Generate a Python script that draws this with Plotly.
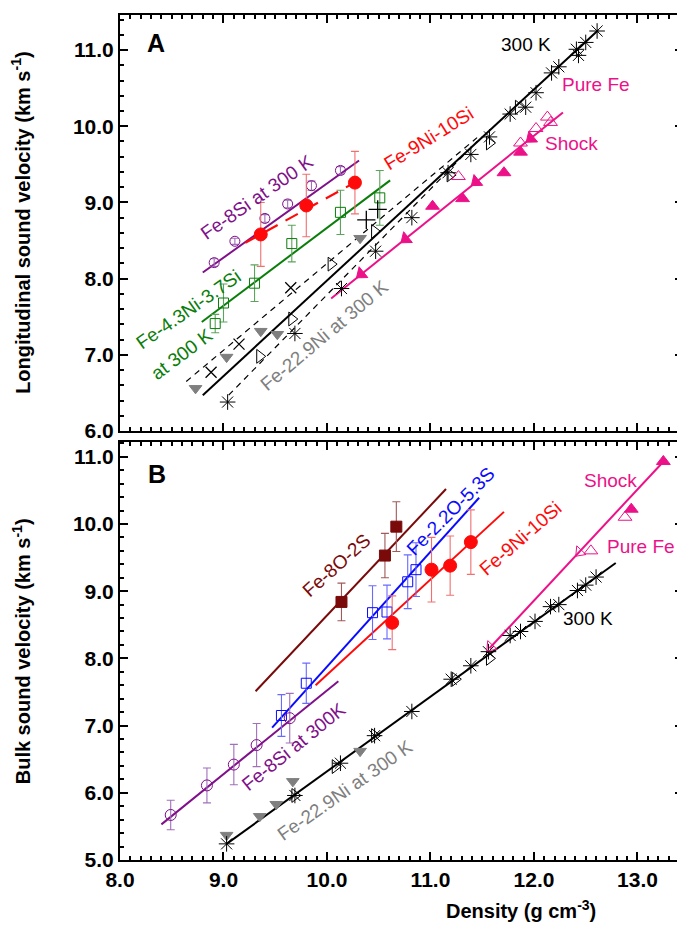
import plotly.graph_objects as go

# ---------------- Panel A: longitudinal sound velocity ----------------
a_fe8si_x = [8.91, 9.11, 9.40, 9.62, 9.85, 10.13]
a_fe8si_y = [8.21, 8.49, 8.79, 8.98, 9.22, 9.42]
a_fe8si_err = [0.05, 0.04, 0.05, 0.05, 0.06, 0.05]
a_fe8si_fit_x = [8.80, 10.31]
a_fe8si_fit_y = [8.08, 9.55]

a_fe9ni10si_x = [9.36, 9.80, 10.27]
a_fe9ni10si_y = [8.58, 8.96, 9.26]
a_fe9ni10si_err = [0.42, 0.41, 0.41]
a_fe9ni10si_fit_x = [9.21, 10.36]
a_fe9ni10si_fit_y = [8.47, 9.33]

a_fe43ni_x = [8.92, 9.00, 9.30, 9.66, 10.13, 10.51]
a_fe43ni_y = [7.41, 7.68, 7.94, 8.46, 8.87, 9.06]
a_fe43ni_err = [0.12, 0.25, 0.24, 0.24, 0.29, 0.36]
a_fe43ni_fit_x = [8.79, 10.61]
a_fe43ni_fit_y = [7.43, 9.29]

a_fe300_x = [11.17, 11.39, 11.57, 11.77, 11.92, 12.02, 12.17, 12.24, 12.41, 12.43, 12.50, 12.61]
a_fe300_y = [9.39, 9.63, 9.86, 10.16, 10.25, 10.44, 10.70, 10.78, 11.01, 10.93, 11.10, 11.25]
a_fe300_fit_x = [8.80, 12.62]
a_fe300_fit_y = [6.47, 11.26]

a_star_low_x = [9.04, 9.69, 10.14, 10.47, 10.82]
a_star_low_y = [6.38, 7.28, 7.87, 8.36, 8.80]
a_dash_low_x = [9.05, 11.45]
a_dash_low_y = [6.47, 9.80]
a_dash_up_x = [8.64, 11.45]
a_dash_up_y = [6.65, 9.85]

a_ni229_x = [8.73, 9.03, 9.36, 9.52, 10.32]
a_ni229_y = [6.56, 6.97, 7.31, 7.27, 8.53]
a_xmark_x = [8.88, 9.15, 9.65]
a_xmark_y = [6.77, 7.14, 7.88]
a_plus_x = [10.38, 10.49]
a_plus_y = [8.77, 8.91]
a_tri_x = [9.35, 9.66, 10.04, 10.46, 11.19, 11.57, 11.85]
a_tri_y = [6.98, 7.47, 8.19, 8.62, 9.36, 9.78, 10.25]

a_shock_x = [11.02, 11.31, 11.71, 11.87]
a_shock_y = [8.95, 9.05, 9.39, 9.66]
a_arrow_x = [10.33, 10.76, 11.44, 11.97]
a_arrow_y = [8.06, 8.52, 9.27, 9.84]
a_purefe_x = [11.27, 11.87, 12.02, 12.13, 12.16]
a_purefe_y = [9.34, 9.78, 9.97, 10.12, 10.05]
a_shock_fit_x = [10.04, 12.28]
a_shock_fit_y = [7.74, 10.18]

# ---------------- Panel B: bulk sound velocity ----------------
b_fe8o2s_x = [10.14, 10.56, 10.67]
b_fe8o2s_y = [8.84, 9.53, 9.96]
b_fe8o2s_err = [0.28, 0.33, 0.37]
b_fe8o2s_fit_x = [9.31, 11.15]
b_fe8o2s_fit_y = [7.51, 10.52]

b_fe22o_x = [9.56, 9.80, 10.44, 10.58, 10.78, 10.86]
b_fe22o_y = [7.15, 7.63, 8.68, 8.69, 9.14, 9.32]
b_fe22o_err = [0.31, 0.30, 0.40, 0.40, 0.40, 0.40]
b_fe22o_fit_x = [9.47, 11.47]
b_fe22o_fit_y = [6.97, 10.39]

b_fe9ni10si_x = [10.63, 11.01, 11.19, 11.39]
b_fe9ni10si_y = [8.53, 9.32, 9.38, 9.73]
b_fe9ni10si_err = [0.40, 0.48, 0.44, 0.48]
b_fe9ni10si_fit_x = [9.89, 11.71]
b_fe9ni10si_fit_y = [7.60, 10.18]

b_fe8si_x = [8.49, 8.84, 9.10, 9.32, 9.64]
b_fe8si_y = [5.67, 6.11, 6.42, 6.71, 7.11]
b_fe8si_err = [0.22, 0.26, 0.30, 0.32, 0.37]
b_fe8si_fit_x = [8.40, 10.11]
b_fe8si_fit_y = [5.53, 7.66]

b_fe300_x = [9.03, 9.69, 10.13, 10.46, 10.82, 11.20, 11.39, 11.56, 11.77, 11.87, 12.01, 12.16, 12.24, 12.42, 12.50, 12.60]
b_fe300_y = [5.24, 5.96, 6.44, 6.85, 7.21, 7.69, 7.89, 8.10, 8.34, 8.40, 8.55, 8.77, 8.80, 9.01, 9.09, 9.21]
b_fe300_fit_x = [9.03, 12.79]
b_fe300_fit_y = [5.24, 9.42]
b_tri_x = [9.69, 10.08, 10.46, 11.24, 11.57]
b_tri_y = [5.96, 6.39, 6.85, 7.69, 8.00]
b_ni229_x = [9.03, 9.35, 9.51, 9.67, 10.32]
b_ni229_y = [5.37, 5.65, 5.83, 6.17, 6.62]

b_shock_x = [12.94, 13.25]
b_shock_y = [10.22, 10.93]
b_arrow_x = [11.58, 12.44]
b_arrow_y = [8.17, 9.58]
b_purefe_x = [12.55, 12.88]
b_purefe_y = [9.60, 10.10]
b_shock_fit_x = [11.57, 13.27]
b_shock_fit_y = [8.15, 10.96]

x_ticks = [8.0, 9.0, 10.0, 11.0, 12.0, 13.0]

PURPLE = "#80108a"
RED = "#ff0a0a"
GREEN = "#0a7d0a"
PINK = "#ec1188"
DRED = "#7a0a0a"
BLUE = "#0a0aff"
GRAY = "#7f7f7f"
FONT = "Liberation Sans"
LBL = 19

fig = go.Figure()


def add(xs, ys, xa, ya, mode, color, symbol=None, size=10, err=None, errcolor=None,
        dash="solid", lw=2, mlw=1, angle=0, fill=None):
    kw = dict(x=xs, y=ys, xaxis=xa, yaxis=ya, mode=mode, showlegend=False,
              hoverinfo="skip")
    if "lines" in mode:
        kw["line"] = dict(color=color, width=lw, dash=dash)
    if "markers" in mode:
        kw["marker"] = dict(symbol=symbol, size=size, color=color if fill is None else fill,
                            angle=angle, line=dict(color=color, width=mlw))
    if err is not None:
        kw["error_y"] = dict(type="data", array=err, visible=True,
                             color=errcolor, thickness=1.1, width=4)
    fig.add_trace(go.Scatter(**kw))


# ---- Panel A ----
A = ("x", "y")
add(a_dash_up_x, a_dash_up_y, *A, "lines", "black", dash="6px,5px", lw=1.2)
add(a_dash_low_x, a_dash_low_y, *A, "lines", "black", dash="6px,5px", lw=1.2)
add(a_fe300_fit_x, a_fe300_fit_y, *A, "lines", "black", lw=2)
add(a_shock_fit_x, a_shock_fit_y, *A, "lines", PINK, lw=2)
add(a_fe8si_fit_x, a_fe8si_fit_y, *A, "lines", PURPLE, lw=2)
add(a_fe43ni_fit_x, a_fe43ni_fit_y, *A, "lines", GREEN, lw=2)
add(a_fe9ni10si_fit_x, a_fe9ni10si_fit_y, *A, "lines", RED, dash="14px,9px", lw=2.2)

add(a_fe8si_x, a_fe8si_y, *A, "markers", PURPLE, "circle-open", 10,
    err=a_fe8si_err, errcolor="#a070b8")
add(a_fe43ni_x, a_fe43ni_y, *A, "markers", GREEN, "square-open", 10,
    err=a_fe43ni_err, errcolor="#5ca35c")
add(a_fe9ni10si_x, a_fe9ni10si_y, *A, "markers", RED, "circle", 13,
    err=a_fe9ni10si_err, errcolor="#f07070")
add(a_ni229_x, a_ni229_y, *A, "markers", GRAY, "triangle-down", 11)
add(a_xmark_x, a_xmark_y, *A, "markers", "black", "x-thin-open", 11, mlw=1.3)
add(a_plus_x, a_plus_y, *A, "markers", "black", "cross-thin-open", 13, mlw=1.3)
add(a_tri_x, a_tri_y, *A, "markers", "black", "triangle-right-open", 12, mlw=1)
add(a_star_low_x, a_star_low_y, *A, "markers", "black", "asterisk-open", 13, mlw=1)
add(a_fe300_x, a_fe300_y, *A, "markers", "black", "asterisk-open", 13, mlw=1)
add(a_purefe_x, a_purefe_y, *A, "markers", PINK, "triangle-up-open", 12, mlw=1)
add(a_shock_x, a_shock_y, *A, "markers", PINK, "triangle-up", 12)
add(a_arrow_x, a_arrow_y, *A, "markers", PINK, "triangle-left", 12, angle=-39)

# ---- Panel B ----
B = ("x2", "y2")
add(b_fe300_fit_x, b_fe300_fit_y, *B, "lines", "black", lw=2)
add(b_shock_fit_x, b_shock_fit_y, *B, "lines", PINK, lw=2)
add(b_fe8o2s_fit_x, b_fe8o2s_fit_y, *B, "lines", DRED, lw=2)
add(b_fe22o_fit_x, b_fe22o_fit_y, *B, "lines", BLUE, lw=2)
add(b_fe9ni10si_fit_x, b_fe9ni10si_fit_y, *B, "lines", RED, lw=2)
add(b_fe8si_fit_x, b_fe8si_fit_y, *B, "lines", PURPLE, lw=2)

add(b_fe8o2s_x, b_fe8o2s_y, *B, "markers", DRED, "square", 11,
    err=b_fe8o2s_err, errcolor="#a05a5a")
add(b_fe22o_x, b_fe22o_y, *B, "markers", BLUE, "square-open", 10,
    err=b_fe22o_err, errcolor="#6a6aff")
add(b_fe9ni10si_x, b_fe9ni10si_y, *B, "markers", RED, "circle", 13,
    err=b_fe9ni10si_err, errcolor="#f07070")
add(b_fe8si_x, b_fe8si_y, *B, "markers", PURPLE, "circle-open", 11,
    err=b_fe8si_err, errcolor="#a070b8")
add(b_ni229_x, b_ni229_y, *B, "markers", GRAY, "triangle-down", 11)
add(b_tri_x, b_tri_y, *B, "markers", "black", "triangle-right-open", 12)
add(b_fe300_x, b_fe300_y, *B, "markers", "black", "asterisk-open", 13, mlw=1)
add(b_purefe_x, b_purefe_y, *B, "markers", PINK, "triangle-up-open", 12)
add(b_shock_x, b_shock_y, *B, "markers", PINK, "triangle-up", 12)
add(b_arrow_x, b_arrow_y, *B, "markers", PINK, "triangle-left-open", 11, angle=-47)

# ---- axes ----
tickfont = dict(family=FONT, size=21, color="black", weight="bold")
common = dict(showline=True, linewidth=2, linecolor="black", mirror="allticks",
              ticks="inside", ticklen=8, tickwidth=2, tickcolor="black",
              showgrid=False, zeroline=False, tickfont=tickfont, tickformat=".1f")
xminor = dict(dtick=0.1, ticks="inside", ticklen=4, tickwidth=1.5, tickcolor="black",
              showgrid=False)
yminor = dict(dtick=0.2, ticks="inside", ticklen=4, tickwidth=1.5, tickcolor="black",
              showgrid=False)

fig.update_layout(
    width=685, height=931,
    margin=dict(l=112, r=10, t=5, b=79),
    plot_bgcolor="white", paper_bgcolor="white",
    font=dict(family=FONT, size=16, color="black"),
    xaxis=dict(range=[8.0, 13.44], domain=[0, 1], anchor="y", tickvals=x_ticks,
               showticklabels=False, minor=xminor, **common),
    yaxis=dict(range=[6.0, 11.46], domain=[0.5077, 1], anchor="x", dtick=1,
               tick0=6, minor=yminor, **common),
    xaxis2=dict(range=[8.0, 13.44], domain=[0, 1], anchor="y2", tickvals=x_ticks,
                matches="x", minor=xminor, **common),
    yaxis2=dict(range=[5.0, 11.22], domain=[0, 0.4947], anchor="x2", dtick=1,
                tick0=5, minor=yminor, **common),
)

anns = []


def lab(text, x, y, color, angle=0, xr="x", yr="y", size=LBL):
    anns.append(dict(text=text, x=x, y=y, xref=xr, yref=yr, showarrow=False,
                     textangle=angle, font=dict(family=FONT, size=size, color=color),
                     xanchor="center", yanchor="middle"))


# Panel A labels
lab("300 K", 11.92, 11.07, "black")
lab("Pure Fe", 12.60, 10.55, PINK)
lab("Shock", 12.36, 9.78, PINK)
lab("Fe-9Ni-10Si", 10.98, 9.84, RED, -32)
lab("Fe-8Si at 300 K", 9.32, 9.06, PURPLE, -35)
lab("Fe-4.3Ni-3.7Si", 8.66, 7.60, GREEN, -35)
lab("at 300 K", 8.59, 7.01, GREEN, -37)
lab("Fe-22.9Ni at 300 K", 9.97, 7.26, GRAY, -40)

# Panel B labels
lab("Shock", 12.74, 10.65, PINK, xr="x2", yr="y2")
lab("Pure Fe", 13.03, 9.67, PINK, xr="x2", yr="y2")
lab("300 K", 12.52, 8.59, "black", xr="x2", yr="y2")
lab("Fe-9Ni-10Si", 11.87, 9.78, RED, -41, "x2", "y2")
lab("Fe-2.2O-5.3S", 11.19, 10.19, BLUE, -45, "x2", "y2")
lab("Fe-8O-2S", 10.09, 9.38, DRED, -42, "x2", "y2")
lab("Fe-8Si at 300K", 9.68, 6.69, PURPLE, -39, "x2", "y2")
lab("Fe-22.9Ni at 300 K", 10.17, 6.04, GRAY, -35, "x2", "y2")

# panel letters
anns.append(dict(text="<b>A</b>", x=0.064, y=0.967, xref="paper", yref="paper",
                 xanchor="center", yanchor="middle",
                 showarrow=False, font=dict(family=FONT, size=25, color="black")))
anns.append(dict(text="<b>B</b>", x=0.066, y=0.457, xref="paper", yref="paper",
                 xanchor="center", yanchor="middle",
                 showarrow=False, font=dict(family=FONT, size=25, color="black")))

# axis titles
anns.append(dict(text="<b>Longitudinal sound velocity (km s<sup>-1</sup>)</b>",
                 x=0, y=0.754, xref="paper", yref="paper", xshift=-99,
                 textangle=-90, showarrow=False, xanchor="center", yanchor="middle",
                 font=dict(family=FONT, size=20, color="black")))
anns.append(dict(text="<b>Bulk sound velocity (km s<sup>-1</sup>)</b>",
                 x=0, y=0.247, xref="paper", yref="paper", xshift=-99,
                 textangle=-90, showarrow=False, xanchor="center", yanchor="middle",
                 font=dict(family=FONT, size=20, color="black")))
anns.append(dict(text="<b>Density (g cm<sup>-3</sup>)</b>",
                 x=0.712, y=-0.058, xref="paper", yref="paper",
                 showarrow=False, xanchor="center", yanchor="middle",
                 font=dict(family=FONT, size=20, color="black")))

fig.update_layout(annotations=anns)
fig.write_html("out.html")
